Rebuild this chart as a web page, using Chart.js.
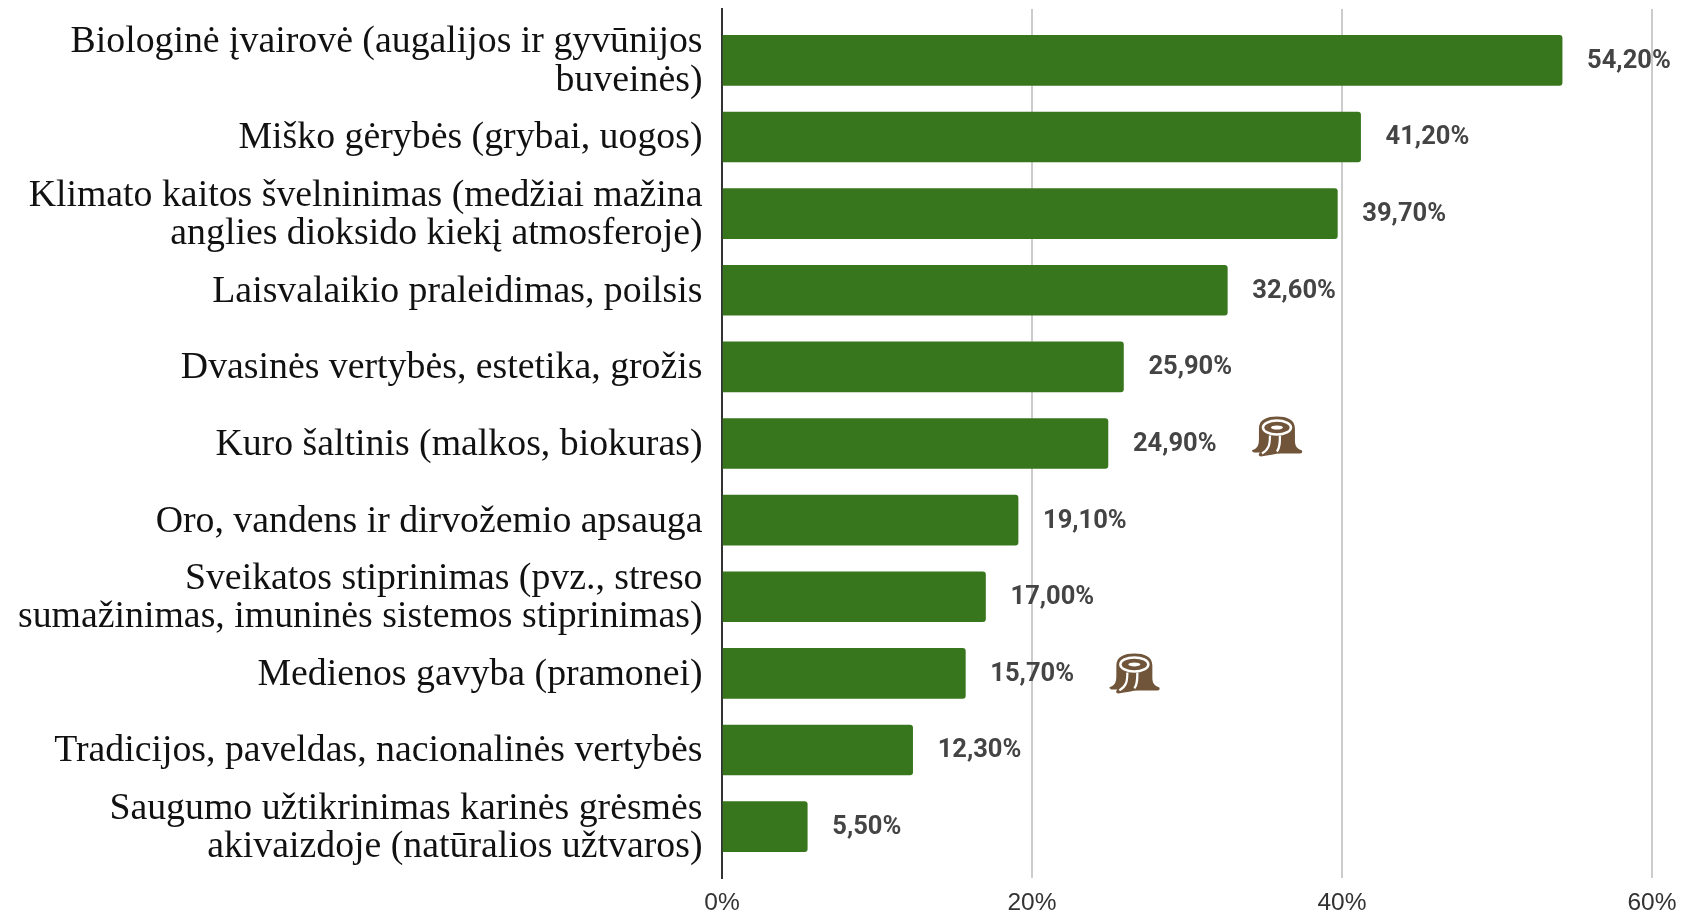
<!DOCTYPE html>
<html>
<head>
<meta charset="utf-8">
<style>
html,body{margin:0;padding:0;background:#fff;}
canvas{display:block;}
</style>
<script src="https://cdn.jsdelivr.net/npm/chart.js@4/dist/chart.umd.min.js"></script>
</head>
<body>
<canvas id="chart" width="1681" height="914"></canvas>
<script>
const categories=[
    ['Biologinė įvairovė (augalijos ir gyvūnijos','buveinės)'],
    'Miško gėrybės (grybai, uogos)',
    ['Klimato kaitos švelninimas (medžiai mažina','anglies dioksido kiekį atmosferoje)'],
    'Laisvalaikio praleidimas, poilsis',
    'Dvasinės vertybės, estetika, grožis',
    'Kuro šaltinis (malkos, biokuras)',
    'Oro, vandens ir dirvožemio apsauga',
    ['Sveikatos stiprinimas (pvz., streso','sumažinimas, imuninės sistemos stiprinimas)'],
    'Medienos gavyba (pramonei)',
    'Tradicijos, paveldas, nacionalinės vertybės',
    ['Saugumo užtikrinimas karinės grėsmės','akivaizdoje (natūralios užtvaros)']
];
const values=[54.2,41.2,39.7,32.6,25.9,24.9,19.1,17.0,15.7,12.3,5.5];
const xTicks=[0,20,40,60];
const stumpRows=[5,8];

// data labels next to the bars, lithuanian decimal comma
const barLabels={
    id:'barLabels',
    afterDatasetsDraw(chart){
        const ctx=chart.ctx;
        ctx.save();
        ctx.font='bold 25.5px Roboto';
        ctx.fillStyle='#444444';
        ctx.textAlign='left';
        ctx.textBaseline='middle';
        chart.getDatasetMeta(0).data.forEach((bar,i)=>{
            ctx.fillText(values[i].toFixed(2).replace('.',',')+'%',bar.x+25,bar.y+1);
        });
        ctx.restore();
    }
};

// tree stump icon, 50x40, drawn around its center
function drawStump(ctx,cx,cy){
    ctx.save();
    ctx.translate(cx,cy);
    ctx.fillStyle='#70553a';
    ctx.beginPath();
    ctx.moveTo(-18,-8);
    ctx.bezierCurveTo(-18,-17,-10,-20,0,-20);
    ctx.bezierCurveTo(10,-20,18,-17,18,-8);
    ctx.lineTo(18,4);
    ctx.bezierCurveTo(18,10,20,12,25,14);
    ctx.quadraticCurveTo(26,17,23,17);
    ctx.lineTo(4,17);
    ctx.bezierCurveTo(-2,17,-8,19,-16,20);
    ctx.quadraticCurveTo(-20,19,-17,16);
    ctx.lineTo(-23,16);
    ctx.quadraticCurveTo(-27,14,-23,13);
    ctx.bezierCurveTo(-19,11,-18,8,-18,2);
    ctx.closePath();
    ctx.fill();
    ctx.strokeStyle='#ffffff';
    ctx.lineWidth=2.5;
    ctx.beginPath();
    ctx.ellipse(0,-9,14,7,0,0,Math.PI*2);
    ctx.stroke();
    ctx.fillStyle='#ffffff';
    ctx.beginPath();
    ctx.ellipse(0,-9,6,2,0,0,Math.PI*2);
    ctx.fill();
    ctx.lineWidth=2.2;
    ctx.beginPath();
    ctx.moveTo(-7,-1);
    ctx.bezierCurveTo(-7,8,-8,13,-15,17);
    ctx.moveTo(3,-1);
    ctx.bezierCurveTo(3,6,3,11,0,15);
    ctx.stroke();
    ctx.restore();
}
const stumps={
    id:'stumps',
    afterDatasetsDraw(chart){
        const bars=chart.getDatasetMeta(0).data;
        // the upper icon sits a bit above its bar center in the original
        stumpRows.forEach(i=>drawStump(chart.ctx,bars[i].x+169,bars[i].y-(i===5?7:0)));
    }
};

new Chart(document.getElementById('chart').getContext('2d'),{
    type:'bar',
    data:{
        datasets:[{
            data:values.map((v,i)=>({x:v,y:i})),
            backgroundColor:'#38761d',
            barThickness:50,
            borderRadius:{topRight:3,bottomRight:3,topLeft:0,bottomLeft:0},
            borderSkipped:false
        }]
    },
    plugins:[barLabels,stumps],
    options:{
        indexAxis:'y',
        responsive:false,
        animation:false,
        layout:{padding:{top:9,right:29,bottom:0,left:0}},
        plugins:{legend:{display:false},tooltip:{enabled:false}},
        scales:{
            x:{
                type:'linear',
                min:0,
                max:60,
                afterBuildTicks:s=>{s.ticks=xTicks.map(v=>({value:v}));},
                // keep the plot edges fixed, labels may overhang
                afterFit:s=>{s.height=36;s.paddingLeft=0;s.paddingRight=0;},
                grid:{color:'#cccccc',lineWidth:2,drawTicks:false},
                border:{display:false},
                ticks:{
                    color:'#333333',
                    padding:11,
                    maxRotation:0,
                    font:{family:'"Liberation Sans"',size:24.5},
                    callback:v=>v+'%'
                }
            },
            y:{
                type:'linear',
                reverse:true,
                offset:false,
                bounds:'data',
                min:-0.67,
                max:10.67,
                afterBuildTicks:s=>{s.ticks=categories.map((c,i)=>({value:i}));},
                afterFit:s=>{s.width=722;s.paddingTop=0;s.paddingBottom=0;},
                grid:{display:false,drawTicks:false},
                border:{display:true,color:'#333333',width:2},
                ticks:{
                    color:'#111111',
                    padding:19.5,
                    labelOffset:1.5,
                    autoSkip:false,
                    font:{family:'"Liberation Serif"',size:37.8,lineHeight:1.02},
                    callback:v=>categories[v]
                }
            }
        }
    }
});
</script>
</body>
</html>
